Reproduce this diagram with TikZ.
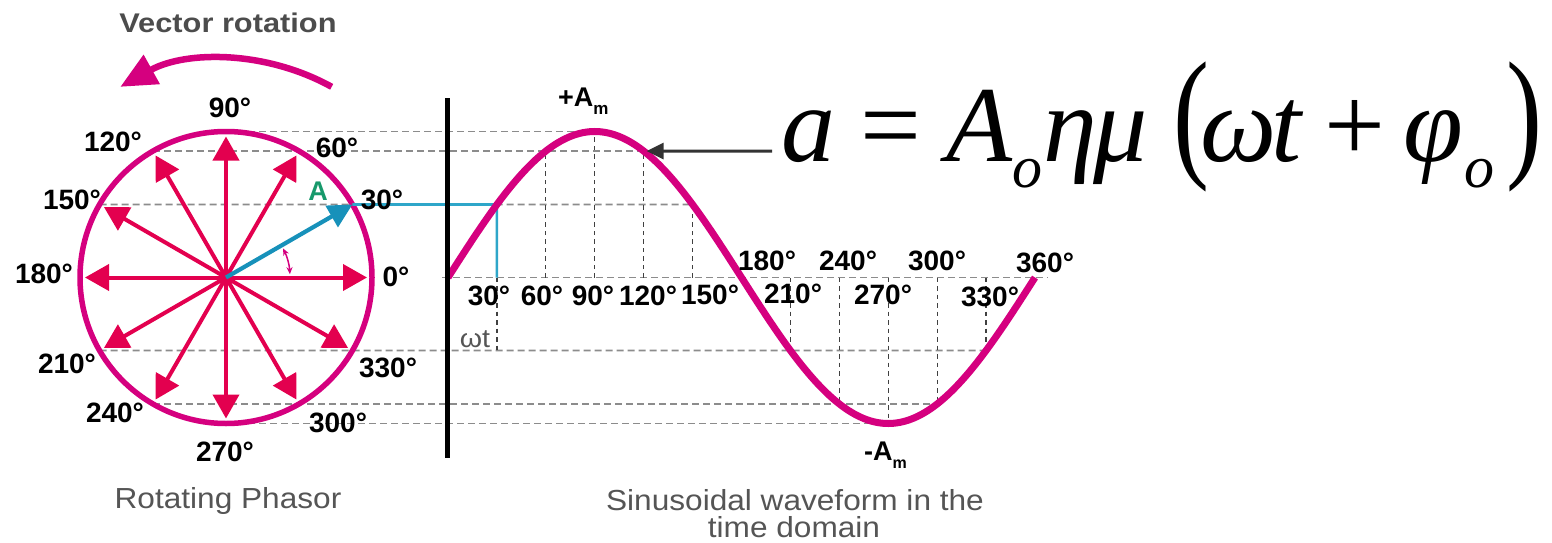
\documentclass[tikz,border=0pt]{standalone}
\usepackage{fontspec}
\setmainfont{Liberation Sans}
\newfontfamily\fserif{Liberation Serif}
\usepackage{graphicx}
\usetikzlibrary{arrows.meta,calc}
\definecolor{mag}{HTML}{D5007F}
\definecolor{crim}{HTML}{E3004F}
\definecolor{vblue}{HTML}{1791BA}
\definecolor{lblue}{HTML}{2EA6C9}
\definecolor{agreen}{HTML}{17996B}
\definecolor{txtgray}{HTML}{555555}
\definecolor{dgray}{HTML}{8C8C8C}
\begin{document}
\begin{tikzpicture}[x=1pt,y=-1pt,
  deg/.style={font=\fontsize{28}{30}\selectfont\bfseries, inner sep=0pt},
  capt/.style={font=\fontsize{29}{30}\selectfont, text=txtgray, inner sep=0pt, anchor=base},
  hdash/.style={draw=dgray, line width=1.8pt, dash pattern=on 7pt off 4pt},
  vdash/.style={draw=black!75, line width=1.2pt, dash pattern=on 4.5pt off 4pt},
  phasor/.style={draw=crim, fill=crim, line width=4pt, -{Triangle[length=24pt,width=26pt]}},
  vecA/.style={draw=vblue, fill=vblue, line width=4.2pt, -{Triangle[length=24pt,width=24pt]}},
  fm/.style={font=\fserif\fontsize{108}{110}\selectfont\itshape, inner sep=0pt, anchor=base},
  fu/.style={font=\fserif\fontsize{108}{110}\selectfont, inner sep=0pt, anchor=base},
  fs/.style={font=\fserif\fontsize{60}{62}\selectfont\itshape, inner sep=0pt, anchor=base},
]
\useasboundingbox (0,0) rectangle (1552,543);
\fill[white] (0,0) rectangle (1552,543);

% geometry
\coordinate (O) at (226,277.5);
\node[circle, minimum size=292pt, inner sep=0pt, outer sep=0pt] (circ) at (O) {};
\foreach \a in {0,30,...,360} {
  \coordinate (W\a) at ({448+\a*1.630556},{277.5-146*sin(\a)});
  \coordinate (X\a) at ({448+\a*1.630556},277.5);
}
\coordinate (AxL) at (442,277.5);
\coordinate (AxR) at (1048,277.5);
\coordinate (AxT) at (447,98);
\coordinate (AxB) at (447,458);

% horizontal dashed projection lines
\draw[hdash] (circ.90) -- (W90);
\draw[hdash] (circ.120) -- (W120);
\draw[hdash] (circ.150) -- (W150);
\draw[hdash] (AxL) -- (AxR);
\draw[hdash] (circ.210) -- (W330);
\draw[hdash] (circ.240) -- (W300);
\draw[hdash] (circ.270) -- (W270);

% vertical dashed lines
\foreach \a in {60,90,120,150,210,240,270,300,330}
  \draw[vdash] (X\a) -- (W\a);
\draw[vdash] (X30) -- (X30 |- W210);

% circle
\draw[mag, line width=5.5pt] (circ.center) circle[radius=146pt];

% phasor arrows
\foreach \a in {0,60,90,120,150,180,210,240,270,300,330} {
  \coordinate (T\a) at ($(O)+(\a:141pt)$);
  \draw[phasor] (O) -- (T\a);
}
% vector A and its projection
\draw[lblue, line width=2.6pt] (circ.30) -- (W30) -- (X30);
\draw[vecA] (O) -- (circ.30);

% angle indicator
\coordinate (G1) at ($(O)+(27:64pt)$);
\draw[mag, line width=1.5pt, {Stealth[length=7pt,width=6pt]}-{Stealth[length=7pt,width=6pt]}] (G1) arc[start angle=-27, end angle=-3, radius=64];

% rotation arrow
\coordinate (R1) at ($(O)+(61:218pt)$);
\draw[mag, line width=6.5pt, -{Triangle[length=36pt,width=32pt]}] (R1) arc[start angle=-61, end angle=-119, radius=218];

% sine wave
\draw[mag, line width=7pt] plot[domain=0:360, samples=121, smooth] ({448+\x*1.630556},{277.5-146*sin(\x)});

% vertical axis
\draw[line width=5pt] (AxT) -- (AxB);

% formula arrow
\coordinate (FA) at (772,151.06);
\draw[draw=black!80, line width=3pt, -{Triangle[length=17pt,width=16pt]}, shorten >=3pt] (FA) -- (W120);

% labels on circle
\foreach \n/\x/\y/\t in {d90/230/108/90, d120/113/142/120, d60/337/148/60, d150/72/200/150, d30/382/200/30, d180/44/274/180, d0/396/277/0, d210/67/364/210, d330/388/368/330, d240/115/413/240, d300/338/423/300, d270/225/452/270}
  \node[deg] (\n) at (\x,\y) {\t°};
\node[font=\fontsize{27}{28}\selectfont\bfseries, text=agreen, inner sep=0pt] (lblA) at (318,191) {A};

% labels on wave
\foreach \n/\x/\y/\t in {w30/489/296/30, w60/542/296/60, w90/593/296/90, w120/648/296/120, w150/710/295/150, w180/767/261/180, w210/793/294/210, w240/848/261/240, w270/883/295/270, w300/937/261/300, w330/990/297/330, w360/1045/263/360}
  \node[deg] (\n) at (\x,\y) {\t°};

\node[font=\fontsize{27}{28}\selectfont\bfseries, inner sep=0pt, anchor=base west] (pAm) at (558,106) {+A\raisebox{-9pt}{\fontsize{17}{17}\selectfont m}};
\node[font=\fontsize{27}{28}\selectfont\bfseries, inner sep=0pt, anchor=base west] (mAm) at (864,460) {-A\raisebox{-8pt}{\fontsize{16}{16}\selectfont m}};
\node[font=\fontsize{26}{28}\selectfont, text=txtgray, inner sep=0pt, anchor=base] (wt) at (475,347) {\scalebox{1.1}[1]{ωt}};

% captions
\node[font=\fontsize{27}{28}\selectfont\bfseries, text=txtgray!90!black, inner sep=0pt, anchor=base] (vrot) at (228,33) {\scalebox{1.14}[1]{Vector rotation}};
\node[capt] (rp) at (228,508) {\scalebox{1.09}[1]{Rotating Phasor}};
\node[capt] (sw1) at (795,510) {\scalebox{1.09}[1]{Sinusoidal waveform in the}};
\node[capt] (sw2) at (794,537) {\scalebox{1.09}[1]{time domain}};

% formula
\node[fm] (fa) at (808,161) {a};
\node[fu] (feq) at (891,161) {=};
\node[fm] (fA) at (979,161) {A};
\node[fs] (fo1) at (1027,187) {o};
\node[fm] (feta) at (1070,161) {η};
\node[fm] (fmu) at (1121,161) {μ};
\node[fu] (flp) at (1191,161) {\scalebox{1}[1.33]{(}};
\node[fm] (fom) at (1239,161) {ω};
\node[fm] (ft) at (1286,161) {t};
\node[fu] (fplus) at (1355,161) {+};
\node[fm] (fphi) at (1433,161) {φ};
\node[fs] (fo2) at (1479,187) {o};
\node[fu] (frp) at (1524,161) {\scalebox{1}[1.33]{)}};
\end{tikzpicture}
\end{document}
